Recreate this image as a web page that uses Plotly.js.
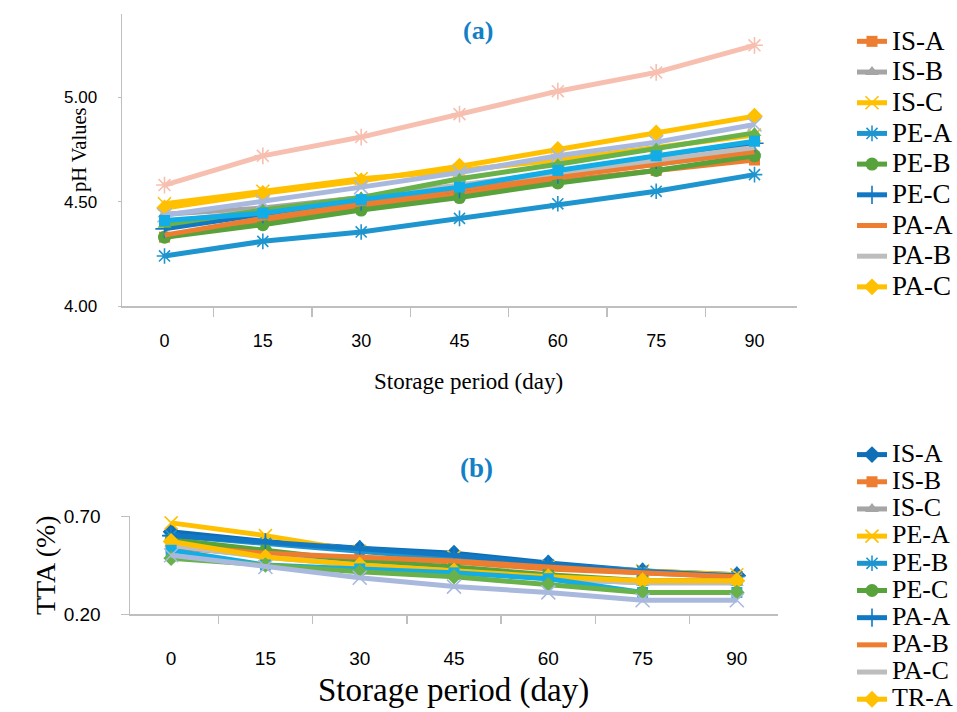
<!DOCTYPE html>
<html>
<head>
<meta charset="utf-8">
<script src="https://cdn.plot.ly/plotly-3.0.1.min.js"></script>
<style>html,body{margin:0;padding:0;background:#fff;}#chart{width:957px;height:712px;}</style>
</head>
<body>
<div id="chart"></div>
<script>
// ---------- data ----------
const days = ['0','15','30','45','60','75','90'];

// (a) pH values
const ph_IS_A = [4.33, 4.41, 4.48, 4.54, 4.60, 4.65, 4.70];
const ph_IS_B = [4.44, 4.47, 4.52, 4.57, 4.62, 4.68, 4.74];
const ph_IS_C = [4.49, 4.55, 4.61, 4.65, 4.70, 4.76, 4.82];
const ph_PE_A = [4.24, 4.31, 4.355, 4.42, 4.49, 4.55, 4.63];
const ph_PE_B = [4.33, 4.39, 4.46, 4.52, 4.59, 4.65, 4.72];
const ph_PE_C = [4.37, 4.44, 4.50, 4.56, 4.63, 4.70, 4.78];
const ph_PA_A = [4.34, 4.42, 4.49, 4.56, 4.62, 4.68, 4.74];
const ph_PA_B = [4.40, 4.46, 4.52, 4.58, 4.64, 4.70, 4.76];
const ph_PA_C = [4.47, 4.54, 4.60, 4.67, 4.75, 4.83, 4.91];
// series drawn in (a) but cut off from its legend
const ph_S10 = [4.58, 4.72, 4.81, 4.92, 5.03, 5.12, 5.25];
const ph_S11 = [4.435, 4.50, 4.57, 4.64, 4.72, 4.785, 4.87];
const ph_S12 = [4.39, 4.46, 4.52, 4.61, 4.68, 4.755, 4.83];
const ph_S13 = [4.41, 4.445, 4.51, 4.57, 4.65, 4.72, 4.79];

// (b) TTA (%)
const tta_IS_A = [0.62, 0.57, 0.535, 0.51, 0.46, 0.42, 0.40];
const tta_IS_B = [0.54, 0.50, 0.49, 0.465, 0.43, 0.41, 0.39];
const tta_IS_C = [0.56, 0.50, 0.46, 0.43, 0.38, 0.36, 0.36];
const tta_PE_A = [0.665, 0.60, 0.52, 0.49, 0.44, 0.42, 0.40];
const tta_PE_B = [0.60, 0.56, 0.52, 0.48, 0.45, 0.42, 0.39];
const tta_PE_C = [0.58, 0.525, 0.47, 0.44, 0.40, 0.37, 0.37];
const tta_PA_A = [0.60, 0.565, 0.53, 0.50, 0.455, 0.415, 0.395];
const tta_PA_B = [0.55, 0.51, 0.49, 0.47, 0.44, 0.41, 0.39];
const tta_PA_C = [0.55, 0.49, 0.45, 0.42, 0.38, 0.36, 0.36];
const tta_TR_A = [0.57, 0.49, 0.45, 0.42, 0.39, 0.37, 0.37];
const tta_S11 = [0.525, 0.45, 0.43, 0.41, 0.38, 0.31, 0.31];
const tta_S12 = [0.485, 0.45, 0.415, 0.39, 0.35, 0.31, 0.31];
const tta_S13 = [0.50, 0.44, 0.385, 0.34, 0.31, 0.27, 0.27];

const namesA = ['IS-A','IS-B','IS-C','PE-A','PE-B','PE-C','PA-A','PA-B','PA-C'];
const namesB = ['IS-A','IS-B','IS-C','PE-A','PE-B','PE-C','PA-A','PA-B','PA-C','TR-A'];

// ---------- styles ----------
const C = {
  orange:'#ED7D31', gray:'#A5A5A5', gold:'#FFC000', skyblue:'#1E95CF',
  green:'#58A23C', blue:'#1278C4', darkblue:'#0F6FB6', ltgray:'#BDBDBD',
  pink:'#F7BFB0', lavender:'#A9B9DE', ltgreen:'#68B14B', cyan:'#12ADE6'
};
const LEG_TXT = {a:27, b:26};
function mk(symbol, color, size){
  const open = symbol.indexOf('open') >= 0;
  return open ? {symbol:symbol, size:size, color:color, line:{color:color, width:1.6}}
              : {symbol:symbol, size:size, color:color, line:{width:0}};
}
function tr(x, y, name, color, symbol, size, axis, legend, show, w){
  const t = {
    type:'scatter', x:x, y:y,
    name: show ? '<span style="font-size:' + LEG_TXT[axis] + 'px">' + name + '</span>' : name,
    mode: symbol ? 'lines+markers' : 'lines',
    line:{color:color, width:w},
    xaxis: axis==='a' ? 'x' : 'x2', yaxis: axis==='a' ? 'y' : 'y2',
    legend: legend, showlegend: show, legendgroup: name + axis
  };
  if (symbol) t.marker = mk(symbol, color, size);
  return t;
}

const data = [
  tr(days, ph_IS_A, namesA[0], C.orange, 'square', 11, 'a', 'legend', true, 5),
  tr(days, ph_IS_B, namesA[1], C.gray, 'triangle-up', 12, 'a', 'legend', true, 5),
  tr(days, ph_IS_C, namesA[2], C.gold, 'x-thin-open', 13, 'a', 'legend', true, 5),
  tr(days, ph_PE_A, namesA[3], C.skyblue, 'asterisk-open', 13, 'a', 'legend', true, 5),
  tr(days, ph_PE_B, namesA[4], C.green, 'circle', 13, 'a', 'legend', true, 5),
  tr(days, ph_PE_C, namesA[5], C.blue, 'cross-thin-open', 13, 'a', 'legend', true, 5),
  tr(days, ph_PA_A, namesA[6], C.orange, null, 0, 'a', 'legend', true, 5),
  tr(days, ph_PA_B, namesA[7], C.ltgray, null, 0, 'a', 'legend', true, 5),
  tr(days, ph_PA_C, namesA[8], C.gold, 'diamond', 13, 'a', 'legend', true, 5),
  tr(days, ph_S10, 'Series 10', C.pink, 'asterisk-open', 14, 'a', 'legend', false, 5),
  tr(days, ph_S11, 'Series 11', C.lavender, 'x-thin-open', 14, 'a', 'legend', false, 5),
  tr(days, ph_S12, 'Series 12', C.ltgreen, 'triangle-up', 12, 'a', 'legend', false, 5),
  tr(days, ph_S13, 'Series 13', C.cyan, 'square', 11, 'a', 'legend', false, 5),

  tr(days, tta_IS_A, namesB[0], C.darkblue, 'diamond', 13, 'b', 'legend2', true, 5),
  tr(days, tta_IS_B, namesB[1], C.orange, 'square', 11, 'b', 'legend2', true, 5),
  tr(days, tta_IS_C, namesB[2], C.gray, 'triangle-up', 12, 'b', 'legend2', true, 5),
  tr(days, tta_PE_A, namesB[3], C.gold, 'x-thin-open', 13, 'b', 'legend2', true, 5),
  tr(days, tta_PE_B, namesB[4], C.skyblue, 'asterisk-open', 13, 'b', 'legend2', true, 5),
  tr(days, tta_PE_C, namesB[5], C.green, 'circle', 13, 'b', 'legend2', true, 5),
  tr(days, tta_PA_A, namesB[6], C.blue, 'cross-thin-open', 13, 'b', 'legend2', true, 5),
  tr(days, tta_PA_B, namesB[7], C.orange, null, 0, 'b', 'legend2', true, 5),
  tr(days, tta_PA_C, namesB[8], C.ltgray, null, 0, 'b', 'legend2', true, 5),
  tr(days, tta_TR_A, namesB[9], C.gold, 'diamond', 13, 'b', 'legend2', true, 5),
  tr(days, tta_S11, 'Series 11', C.cyan, 'square', 11, 'b', 'legend2', false, 5),
  tr(days, tta_S12, 'Series 12', C.ltgreen, 'diamond', 12, 'b', 'legend2', false, 5),
  tr(days, tta_S13, 'Series 13', C.lavender, 'x-thin-open', 14, 'b', 'legend2', false, 5)
];

const W = 957, H = 712;
const px = v => v / W, py = v => 1 - v / H;
const axisLine = {showline:true, linecolor:'#BFBFBF', linewidth:1.5, showgrid:false, zeroline:false, fixedrange:true};
const sans = 'Liberation Sans, Arial, sans-serif';
const serif = 'Liberation Serif, Times New Roman, serif';
function ann(text, x, y, size, color, angle){
  return {text:text, xref:'paper', yref:'paper', x:px(x), y:py(y), xanchor:'center', yanchor:'middle',
          showarrow:false, textangle:angle || 0, font:{family:serif, size:size, color:color}};
}

const layout = {
  width: W, height: H,
  margin:{l:0, r:0, t:0, b:0, autoexpand:false},
  paper_bgcolor:'#fff', plot_bgcolor:'#fff',
  showlegend:true,
  xaxis: Object.assign({}, axisLine, {
    domain:[px(122), px(797)], anchor:'y', type:'category',
    tickson:'boundaries', ticks:'outside', ticklen:9, tickcolor:'#BFBFBF', tickwidth:1.5,
    tickfont:{family:sans, size:18, color:'#000'}, ticklabelstandoff:18
  }),
  yaxis: Object.assign({}, axisLine, {
    domain:[py(306), py(14)], anchor:'x', range:[4.0, 5.4],
    tickvals:[4.0, 4.5, 5.0], ticktext:['4.00','4.50','5.00'],
    ticks:'outside', ticklen:3, tickcolor:'#BFBFBF',
    tickfont:{family:sans, size:17, color:'#000'}, ticklabelstandoff:17
  }),
  xaxis2: Object.assign({}, axisLine, {
    domain:[px(130), px(778)], anchor:'y2', type:'category',
    tickson:'boundaries', ticks:'outside', ticklen:8, tickcolor:'#BFBFBF', tickwidth:1.5,
    tickfont:{family:sans, size:19, color:'#000'}, ticklabelstandoff:27
  }),
  yaxis2: Object.assign({}, axisLine, {
    domain:[py(614), py(516)], anchor:'x2', range:[0.2, 0.7],
    tickvals:[0.2, 0.7], ticktext:['0.20','0.70'],
    ticks:'outside', ticklen:8, tickcolor:'#BFBFBF',
    tickfont:{family:sans, size:19, color:'#000'}, ticklabelstandoff:16
  }),
  legend:{
    x:px(852), y:py(21), xanchor:'left', yanchor:'top',
    font:{family:serif, size:21.3, color:'#000'},
    traceorder:'grouped', tracegroupgap:0, bgcolor:'rgba(0,0,0,0)'
  },
  legend2:{
    x:px(852), y:py(436), xanchor:'left', yanchor:'top',
    font:{family:serif, size:18.6, color:'#000'},
    traceorder:'grouped', tracegroupgap:0, bgcolor:'rgba(0,0,0,0)'
  },
  annotations:[
    ann('<b>(a)</b>', 478, 31, 26, '#1380C6'),
    ann('<b>(b)</b>', 476, 468, 27, '#1380C6'),
    ann('pH Values', 79, 150, 20.5, '#000', -90),
    ann('Storage period (day)', 468, 381, 23, '#000'),
    ann('TTA (%)', 45, 565, 28, '#000', -90),
    ann('Storage period (day)', 453, 690, 33, '#000')
  ]
};

Plotly.newPlot('chart', data, layout, {staticPlot:true, displayModeBar:false});
</script>
</body>
</html>
